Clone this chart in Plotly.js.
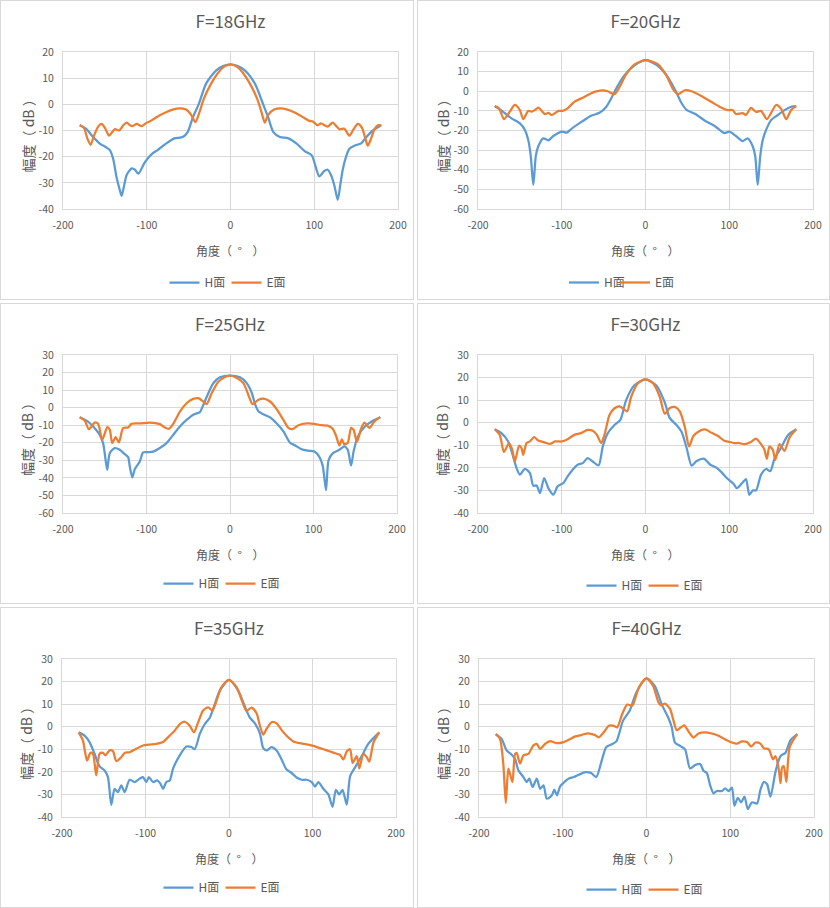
<!DOCTYPE html>
<html><head><meta charset="utf-8">
<script src="https://cdn.plot.ly/plotly-3.0.1.min.js"></script>
<style>
body{margin:0;background:#fff;width:830px;height:908px;position:relative;overflow:hidden}
.panel{position:absolute;box-sizing:border-box;border:1px solid #d9d9d9;background:#fff}
</style></head><body>
<div id="p1" class="panel" style="left:0;top:0;width:414px;height:300px"></div>
<div id="p2" class="panel" style="left:417px;top:0;width:413px;height:300px"></div>
<div id="p3" class="panel" style="left:0;top:303px;width:414px;height:301px"></div>
<div id="p4" class="panel" style="left:417px;top:303px;width:413px;height:301px"></div>
<div id="p5" class="panel" style="left:0;top:607px;width:414px;height:301px"></div>
<div id="p6" class="panel" style="left:417px;top:607px;width:413px;height:301px"></div>
<script>
// ---------- data ----------
const seriesNames = ['H面', 'E面'];
const titles = ['F=18GHz', 'F=20GHz', 'F=25GHz', 'F=30GHz', 'F=35GHz', 'F=40GHz'];
const xAxisTitle = '角度（\u00a0\u00a0°\u00a0\u00a0\u00a0\u00a0）';
const yAxisTitle = '幅度（\u00a0dB\u00a0）';
const xTickVals = [-200, -100, 0, 100, 200];
const xTickText = ['-200', '-100', '0', '100', '200'];
const yTicks20to40 = [20, 10, 0, -10, -20, -30, -40];
const yTicks20to60 = [20, 10, 0, -10, -20, -30, -40, -50, -60];
const yTicks30to60 = [30, 20, 10, 0, -10, -20, -30, -40, -50, -60];
const yTicks30to40 = [30, 20, 10, 0, -10, -20, -30, -40];

// 18 GHz
const angH18 = [-180,-172,-164,-156,-148,-144,-140,-136,-132,-130,-127,-124,-118,-114,-110,-102,-94,-87,-77,-67,-57,-51,-45,-38,-29,-17,-8,0,8,17,29,39,45,51,59,69,79,89,97,106,112,116,120,124,128,131,134,138,142,148,156,162,170,180];
const dbH18  = [-7.9,-9.5,-12.5,-15,-16.5,-17.5,-21,-28,-33,-35,-31,-27,-24.5,-25,-26.5,-22,-19,-17.5,-15,-13,-12.5,-10.5,-5,0,8,13,14.7,15.3,14.7,13,8,0,-5,-10.5,-12.5,-13,-15,-18,-19.5,-27.5,-25.5,-25,-27,-31,-36.5,-31,-25,-20,-17,-15.8,-14.9,-12.6,-10,-8];
const angE18 = [-180,-175,-171,-167,-163,-158,-154,-150,-145,-141,-138,-133,-128,-124,-120,-117,-112,-106,-100,-96,-89,-77,-69,-61,-53,-47,-42,-37,-32,-23,-15,-8,0,8,15,23,32,37,41,45,52,60,68,76,86,94,98,104,108,116,122,130,136,142,147,152,157,161,164,168,172,176,180];
const dbE18  = [-8,-9,-13,-15.5,-12,-8.5,-7.5,-9,-12,-10.5,-9.5,-10,-8,-7,-8,-8.3,-7.5,-8.3,-7,-6.5,-5,-3,-2,-1.5,-2,-4,-6.8,-3,2,8,12,14.3,15.3,14.3,12,8,2,-3,-7,-4,-2,-1.5,-2,-3,-4.8,-6.3,-6.5,-8,-7.3,-8.5,-7,-9.5,-9.3,-12,-9.5,-7.5,-9,-13,-15.8,-13,-9.5,-8,-8];

// 20 GHz
const angH20 = [-180,-170,-160,-150,-144,-140,-137,-135.5,-134,-132.5,-131,-128,-122,-116,-110,-100,-94,-88,-76,-65,-55,-47,-41,-35,-25,-13,0,13,25,35,43,49,59,71,83,94,100,108,116,122,128,131,132.5,134,135.5,137,140,144,150,158,166,174,180];
const dbH20  = [-7.6,-10.5,-13.8,-16.4,-19.7,-24.8,-33,-41,-47.7,-41,-33,-28,-24,-25,-22.8,-20.6,-21.1,-19,-15.5,-12.5,-11,-8,-3.7,1.4,8.2,13.2,15.8,13.5,8.2,1,-6,-9.5,-11.5,-15,-17.8,-21.3,-20.6,-22.8,-25.4,-24,-28,-33,-41,-47.7,-41,-33,-24.8,-19.7,-14.7,-12.1,-9.6,-7.9,-7.6];
const angE20 = [-180,-175,-169,-162,-156,-150,-146,-140,-136,-132,-128,-120,-116,-112,-104,-99,-93,-85,-73,-61,-51,-45,-37,-31,-23,-13,0,15,25,33,39,47,55,67,79,89,98,104,108,116,120,126,132,138,145,156,162,168,174,180];
const dbE20  = [-7.6,-8.7,-14.2,-10.4,-7,-9.6,-14.2,-10,-10.4,-9.6,-8.4,-11.6,-11,-12.1,-10,-10,-8.7,-5.4,-2.9,-0.3,0.5,0,-1.5,2.2,8.7,13.7,15.8,13.7,8,1,-1.5,0.5,0,-2.5,-5.5,-8,-9.6,-9.6,-11.6,-11.2,-12,-8.5,-10.5,-10,-14.2,-7,-9,-14.2,-9.5,-7.6];

// 25 GHz
const angH25 = [-180,-170,-162,-156,-152,-149,-147,-144,-138,-132,-126,-122,-120,-117,-114,-108,-104,-98,-92,-84,-76,-68,-60,-52,-44,-36,-32,-26,-20,-12,0,12,20,26,30,34,40,48,56,64,72,78,85,93,101,107,111,115,118,123,131,137,141,145,148,153,161,171,180];
const dbH25  = [-5.4,-7.9,-11.7,-15.5,-20.2,-29.7,-35.4,-25.9,-23,-24,-26.5,-28.2,-33.5,-39.7,-35,-30.6,-25.5,-25.3,-25,-23,-20.2,-15.5,-10.7,-7,-4,-2.5,1.5,8.2,13.9,17.3,18.3,17.3,14,8.5,2,-2,-3.8,-5.5,-9,-13.5,-20,-21.5,-23.5,-24.5,-25,-28,-33,-47,-30,-26,-24,-22,-24,-33,-25,-16.5,-11,-7.5,-5.4];
const angE25 = [-180,-174,-169,-162,-158,-153,-147,-144,-141,-137,-133,-128,-122,-118,-108,-96,-84,-78,-73,-68,-60,-52,-44,-38,-32,-28,-22,-14,-6,0,6,16,23,27,34,40,48,56,64,70,75,82,92,101,109,117,123,127,131,134,137,141,145,148,152,157,161,167,173,180];
const dbE25  = [-5.4,-7.3,-12.3,-8.5,-9.2,-18.3,-11.1,-12.6,-20.2,-16.8,-19.8,-11.7,-11.3,-9.2,-9,-8.5,-9.4,-11.3,-12,-9.2,-2.2,2.5,5,5.4,3.5,2,8.2,14.8,17.5,18.3,17.5,14,6,2,4.5,5.2,3.5,-1,-7,-11.5,-12.2,-10,-9,-9.2,-10,-10.2,-12,-16,-21.5,-18,-21,-20,-11.5,-12.7,-19.5,-12,-8.5,-11.5,-7.8,-5.4];

// 30 GHz
const angH30 = [-180,-172,-164,-158,-154,-150,-144,-138,-134,-130,-126,-121,-116,-110,-105,-98,-93,-87,-81,-75,-69,-63,-56,-51,-45,-37,-30,-23,-13,0,13,23,29,37,43,49,55,61,70,77,85,91,97,105,109,116,120,124,128,132,138,144,149,154,162,170,180];
const dbH30  = [-2.9,-4.6,-8.3,-15,-20.1,-23,-20.4,-22.3,-27.9,-27.8,-31.2,-24.5,-29,-31.9,-28.2,-26.7,-23.8,-20.8,-18.6,-17.9,-15.7,-17.2,-18.9,-10.5,-4.6,-1,1.3,10.1,16.7,19.2,16.5,9,2,-1,-4,-11,-19,-17,-16,-18.5,-20,-22,-24.5,-27,-29,-26.5,-25,-32,-30,-30,-23,-20.5,-21.5,-16,-11,-5.5,-2.9];
const angE30 = [-180,-174,-169,-163,-159,-156,-151,-148,-146,-142,-138,-133,-128,-120,-114,-108,-100,-93,-85,-77,-69,-63,-58,-53,-49,-43,-37,-31,-26,-22,-17,-9,0,9,17,23,29,35,41,47,52,57,63,71,79,87,94,100,106,112,118,126,132,138,142,145,148,152,155,160,166,172,180];
const dbE30  = [-2.9,-5.4,-13,-9,-12,-17.2,-10.2,-11.3,-14.2,-9,-8.3,-6.4,-7.9,-8.8,-9.4,-8.3,-8.3,-7.3,-5.4,-4.6,-3.2,-3.6,-5.4,-9,-5.4,3.4,6.4,7.2,6,5,11.6,17.5,19.2,17.5,11.5,4,6.5,7,5,-2,-10.5,-6,-4,-3,-4.5,-6,-8,-8.5,-9,-9,-9.5,-8.5,-7,-9.5,-12,-16,-10.5,-12,-16.5,-9.5,-12.5,-6.5,-2.9];

// 35 GHz
const angH35 = [-180,-173,-167,-161,-155,-149,-145,-141,-137,-133,-129,-125,-119,-113,-107,-103,-99,-96,-91,-86,-82,-79,-75,-71,-67,-59,-51,-45,-41,-35,-29,-23,-17,-11,0,11,19,25,31,37,41,45,51,57,63,69,75,81,87,93,99,103,107,113,119,124,128,132,136,141,145,151,159,167,180];
const dbH35  = [-2.5,-3.9,-6.8,-12,-17.6,-19.4,-22.3,-34.6,-27.5,-29,-26,-29,-23.5,-24.5,-23,-22.3,-24.5,-22.3,-24.5,-23.8,-25.3,-27.5,-24.5,-23.8,-18.6,-12.7,-8.8,-9,-9.9,-3.2,1.2,4,10,16,20.7,16,9,4,1.5,-3,-9.5,-10.5,-9,-10.5,-14.5,-19,-20.5,-22.5,-23.5,-23.5,-24.5,-26.5,-24.5,-27.5,-30,-35.5,-28,-30,-28,-34.5,-22,-18,-13,-7.5,-2.5];
const angE35 = [-180,-175,-170,-166,-163,-159,-155,-151,-148,-143,-139,-135,-129,-125,-119,-111,-103,-95,-87,-79,-71,-65,-59,-53,-47,-42,-37,-31,-25,-20,-17,-9,0,9,17,21,27,33,37,41,45,51,57,63,69,77,85,93,101,109,117,125,133,137,141,145,148,153,156,161,165,168,173,180];
const dbE35  = [-2.5,-6.1,-15,-11.6,-12,-21.6,-12,-11.6,-12.7,-10.5,-10.8,-15.2,-13.5,-11.6,-11.3,-9.8,-8.3,-7.9,-7.6,-6.8,-3.9,-1.8,1.2,2.2,0.4,-2.5,1.9,7.2,8.6,7.2,9.4,17.5,20.7,17.5,10,7,8.5,6,0.5,-3.5,-1,2,1.5,-1.5,-4,-6.5,-7.3,-7.8,-8.5,-9.5,-10.5,-11.5,-12.5,-14.5,-11,-10,-16,-13,-18.5,-12,-13.5,-15.5,-7,-2.5];

// 40 GHz
const angH40 = [-180,-173,-167,-161,-157,-153,-147,-143,-140,-136,-131,-127,-123,-119,-113,-110,-107,-103,-98,-93,-87,-81,-73,-66,-60,-54,-48,-42,-36,-28,-20,-12,0,10,18,26,30,34,40,46,52,58,64,68,72,76,80,84,90,94,98,102,105,109,113,117,121,126,132,136,140,144,148,154,160,166,172,180];
const dbH40  = [-3.3,-5.4,-10.5,-12.4,-14.2,-19.3,-22.3,-24.5,-23,-26.7,-23,-27.5,-26,-31.9,-30.4,-27.9,-30.4,-26.3,-24.5,-23,-22.3,-21.3,-20.1,-20.5,-22.3,-15.7,-9,-7.9,-6.5,2.7,7.2,15.3,21.4,18,10,4,0,-7,-8.5,-10,-18.5,-17,-16.5,-19.5,-20.5,-26,-29.5,-28.5,-28.5,-27.3,-28.5,-27,-35,-31.5,-33.5,-31,-36.5,-33.5,-34,-28,-24.5,-25.5,-31,-20,-13,-11.5,-6,-3.3];
const angE40 = [-180,-175,-171,-168,-165,-163,-160,-157,-155,-151,-147,-141,-135,-131,-127,-121,-115,-107,-99,-93,-85,-77,-70,-62,-57,-51,-45,-39,-35,-29,-23,-17,-9,0,8,14,17,22,28,32,36,42,45,50,56,62,70,78,86,96,102,108,114,120,125,130,136,140,146,151,154,158,160,162,164,167,171,180];
const dbE40  = [-3.3,-5.4,-16.4,-33.8,-18.6,-20.8,-24.5,-12.1,-11.6,-16.4,-12.7,-12,-8.3,-7.6,-9.8,-7.6,-6.4,-7.3,-6.8,-5.8,-4.3,-3.6,-2.9,-3.6,-4.7,-2.5,0.4,0.4,-0.3,5.6,9.8,9.4,17.5,21.4,18,11,9.5,10.2,8,3,-1.5,0,0.6,-2,-4.8,-3,-2.5,-3,-4,-6,-7,-7.5,-6.5,-6.8,-8.8,-7,-7.5,-9.5,-10,-14.5,-13,-19,-25,-18,-17.5,-24.5,-9,-3.3];

// ---------- build ----------
const panelData = [
  {h:[angH18,dbH18], e:[angE18,dbE18], yt:yTicks20to40},
  {h:[angH20,dbH20], e:[angE20,dbE20], yt:yTicks20to60},
  {h:[angH25,dbH25], e:[angE25,dbE25], yt:yTicks30to60},
  {h:[angH30,dbH30], e:[angE30,dbE30], yt:yTicks30to40},
  {h:[angH35,dbH35], e:[angE35,dbE35], yt:yTicks30to40},
  {h:[angH40,dbH40], e:[angE40,dbE40], yt:yTicks30to40}
];
// geometry: inner size, plot left, plot width, plot top, plot height,
// legend centre (px from plot left), legend item centre (px below plot), first legend entry width
const geom = [
  {W:412,H:298,l:62,pw:335,t:51,ph:157,lx:166,ly:70,ew:17},
  {W:411,H:298,l:60,pw:335,t:51,ph:157,lx:145,ly:70,ew:6},
  {W:412,H:299,l:62,pw:334,t:51,ph:158,lx:160,ly:67,ew:17},
  {W:411,H:299,l:60,pw:335,t:51,ph:158,lx:168,ly:69,ew:17},
  {W:412,H:299,l:61,pw:334,t:51,ph:158,lx:161,ly:67,ew:17},
  {W:411,H:299,l:61,pw:335,t:51,ph:158,lx:167,ly:69,ew:17}
];
const FONT = 'Noto Sans CJK SC, Noto Sans, sans-serif';
const GREY = '#595959';
const GRID = '#d9d9d9';
const colors = ['#5B9BD5', '#ED7D31'];

panelData.forEach((pd, i) => {
  const g = geom[i];
  const traces = [pd.h, pd.e].map((s, k) => ({
    x: s[0], y: s[1], name: seriesNames[k], type: 'scatter', mode: 'lines',
    legendwidth: k === 0 ? g.ew : 22,
    line: {color: colors[k], width: 2.25, shape: 'spline', smoothing: 0.7}
  }));
  const yt = pd.yt;
  const layout = {
    width: g.W, height: g.H,
    margin: {l: g.l, r: g.W - g.l - g.pw, t: g.t, b: g.H - g.t - g.ph, pad: 0, autoexpand: false},
    paper_bgcolor: '#fff', plot_bgcolor: '#fff',
    font: {family: FONT, color: GREY, size: 10.5},
    title: {text: titles[i], font: {family: FONT, size: 17, color: GREY},
            x: 0.5, xref: 'paper', xanchor: 'center', y: 1 - 21 / g.H, yref: 'container', yanchor: 'middle'},
    xaxis: {range: [-200, 200], tickvals: xTickVals, ticktext: xTickText, showgrid: true, gridcolor: GRID, gridwidth: 1,
            zeroline: false, showline: true, mirror: true, linecolor: GRID, linewidth: 1, ticks: '',
            ticklabelstandoff: 6, tickfont: {size: 10.5, color: GREY}, fixedrange: true},
    yaxis: {range: [yt[yt.length - 1], yt[0]], tickvals: yt, ticktext: yt.map(String), showgrid: true, gridcolor: GRID, gridwidth: 1,
            zeroline: false, showline: true, mirror: true, linecolor: GRID, linewidth: 1, ticks: '',
            ticklabelstandoff: 6, tickfont: {size: 10.5, color: GREY}, fixedrange: true},
    showlegend: true,
    legend: {orientation: 'h', x: g.lx / g.pw, xanchor: 'center', y: -(g.ly - 11) / g.ph, yanchor: 'top',
             font: {family: FONT, size: 12, color: GREY}, bgcolor: 'rgba(0,0,0,0)', itemwidth: 30,
             entrywidthmode: 'pixels', traceorder: 'normal'},
    annotations: [
      {text: xAxisTitle, xref: 'paper', yref: 'paper', x: 0.5, y: 0, yshift: -41, xanchor: 'center', yanchor: 'middle',
       showarrow: false, font: {family: FONT, size: 12, color: GREY}},
      {text: yAxisTitle, xref: 'paper', yref: 'paper', x: 0, y: 0.5, yshift: -2, xshift: -36, xanchor: 'center', yanchor: 'middle',
       textangle: -90, showarrow: false, font: {family: FONT, size: 14, color: GREY}}
    ],
    hovermode: false
  };
  Plotly.newPlot('p' + (i + 1), traces, layout, {staticPlot: true, displayModeBar: false});
});
</script>
</body></html>
